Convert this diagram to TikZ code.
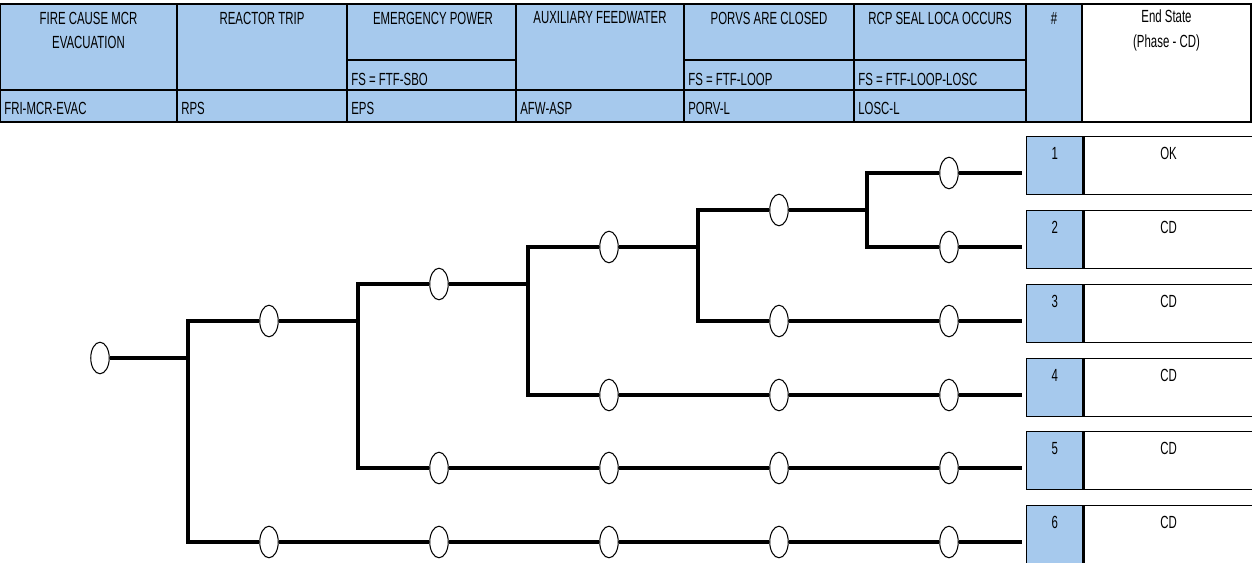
\documentclass[tikz,border=0pt]{standalone}
\usepackage{fontspec}
\setmainfont{Liberation Sans}[FakeStretch=0.65]
\usepackage{tikz}
\usetikzlibrary{positioning,shapes.geometric,calc}
\definecolor{hdrblue}{RGB}{166,201,237}

\begin{document}
\begin{tikzpicture}[
  x=0.02cm, y=-0.02cm,
  font=\fontsize{10}{14}\selectfont,
  cell/.style={draw=black,line width=0.8pt,fill=hdrblue},
  ttl/.style={align=center,inner sep=0pt},
  tag/.style={anchor=west,inner sep=0pt},
  ev/.style={draw,ellipse,fill=white,line width=0.6pt,minimum width=0.37cm,
    minimum height=0.63cm,inner sep=0pt},
  br/.style={line width=2.3pt},
  numbox/.style={draw,line width=0.8pt,fill=hdrblue,minimum width=1.12cm,inner sep=0pt,
    text height=0.46cm,text depth=0.70cm,anchor=north west},
  endbox/.style={draw,line width=0.8pt,fill=white,minimum width=3.38cm,inner sep=0pt,
    text height=0.46cm,text depth=0.70cm}
]
\useasboundingbox (0,0) rectangle (1252,563);
% Header: event columns
\draw[cell] (0,4) rectangle (177,90);
\draw[cell] (0,90) rectangle (177,122);
\draw[cell] (177,4) rectangle (347,90);
\draw[cell] (177,90) rectangle (347,122);
\draw[cell] (347,4) rectangle (516,60);
\draw[cell] (347,60) rectangle (516,90);
\draw[cell] (347,90) rectangle (516,122);
\draw[cell] (516,4) rectangle (684,90);
\draw[cell] (516,90) rectangle (684,122);
\draw[cell] (684,4) rectangle (854,60);
\draw[cell] (684,60) rectangle (854,90);
\draw[cell] (684,90) rectangle (854,122);
\draw[cell] (854,4) rectangle (1026,60);
\draw[cell] (854,60) rectangle (1026,90);
\draw[cell] (854,90) rectangle (1026,122);
\draw[cell] (1026,4) rectangle (1082,122);
\draw[cell,fill=white] (1082,4) rectangle (1251,122);
\node[ttl] (t1) at (88.5,30.5) {FIRE CAUSE MCR\\EVACUATION};
\node[ttl] (t2) at (262,18) {REACTOR TRIP};
\node[ttl] (t3) at (433,18) {EMERGENCY POWER};
\node[ttl] (t4) at (600,18) {AUXILIARY FEEDWATER};
\node[ttl] (t5) at (769,18) {PORVS ARE CLOSED};
\node[ttl] (t6) at (940,18) {RCP SEAL LOCA OCCURS};
\node[ttl] (t7) at (1054,18) {\#};
\node[ttl] (t8) at (1166.5,30.5) {End State\\(Phase - CD)};
\node[tag] (fs3) at (351,79) {FS = FTF-SBO};
\node[tag] (fs5) at (688,79) {FS = FTF-LOOP};
\node[tag] (fs6) at (858,79) {FS = FTF-LOOP-LOSC};
\node[tag] (id1) at (4,108) {FRI-MCR-EVAC};
\node[tag] (id2) at (181,108) {RPS};
\node[tag] (id3) at (351,108) {EPS};
\node[tag] (id4) at (520,108) {AFW-ASP};
\node[tag] (id5) at (688,108) {PORV-L};
\node[tag] (id6) at (858,108) {LOSC-L};
% End states
\node[numbox] (n1) at (1026,136) {1};
\node[endbox,right=0pt of n1] (s1) {OK};
\node[numbox] (n2) at (1026,210) {2};
\node[endbox,right=0pt of n2] (s2) {CD};
\node[numbox] (n3) at (1026,284) {3};
\node[endbox,right=0pt of n3] (s3) {CD};
\node[numbox] (n4) at (1026,358) {4};
\node[endbox,right=0pt of n4] (s4) {CD};
\node[numbox] (n5) at (1026,431) {5};
\node[endbox,right=0pt of n5] (s5) {CD};
\node[numbox] (n6) at (1026,505) {6};
\node[endbox,right=0pt of n6] (s6) {CD};
% Branch points
\node[ev] (ie) at (100,358) {};
\node[ev] (rt1) at (269,321) {};
\node[ev] (rt6) at (269,542) {};
\node[ev] (ep1) at (439,284) {};
\node[ev] (ep5) at (439,468) {};
\node[ev] (ep6) at (439,542) {};
\node[ev] (af1) at (609,247) {};
\node[ev] (af4) at (609,395) {};
\node[ev] (af5) at (609,468) {};
\node[ev] (af6) at (609,542) {};
\node[ev] (pv1) at (779,210) {};
\node[ev] (pv3) at (779,321) {};
\node[ev] (pv4) at (779,395) {};
\node[ev] (pv5) at (779,468) {};
\node[ev] (pv6) at (779,542) {};
\node[ev] (ls1) at (949,173) {};
\node[ev] (ls2) at (949,247) {};
\node[ev] (ls3) at (949,321) {};
\node[ev] (ls4) at (949,395) {};
\node[ev] (ls5) at (949,468) {};
\node[ev] (ls6) at (949,542) {};
\coordinate (k1) at (188,358);
\coordinate (k2) at (358,321);
\coordinate (k3) at (528,284);
\coordinate (k4) at (698,247);
\coordinate (k5) at (867,210);
% Tree
\draw[br,line width=2.8pt] (ie) -- (k1);
\draw[br] (rt1) -| (k1) |- (rt6);
\draw[br] (rt1) -- (k2);
\draw[br] (ep1) -| (k2) |- (ep5);
\draw[br] (ep1) -- (k3);
\draw[br] (af1) -| (k3) |- (af4);
\draw[br] (af1) -- (k4);
\draw[br] (pv1) -| (k4) |- (pv3);
\draw[br] (pv1) -- (k5);
\draw[br] (ls1) -| (k5) |- (ls2);
\draw[br] (pv3) -- (ls3);
\draw[br] (af4) -- (pv4) -- (ls4);
\draw[br] (ep5) -- (af5) -- (pv5) -- (ls5);
\draw[br] (rt6) -- (ep6) -- (af6) -- (pv6) -- (ls6);
\draw[br,shorten >=0.08cm] (ls1) -- (ls1 -| n1.west);
\draw[br,shorten >=0.08cm] (ls2) -- (ls2 -| n2.west);
\draw[br,shorten >=0.08cm] (ls3) -- (ls3 -| n3.west);
\draw[br,shorten >=0.08cm] (ls4) -- (ls4 -| n4.west);
\draw[br,shorten >=0.08cm] (ls5) -- (ls5 -| n5.west);
\draw[br,shorten >=0.08cm] (ls6) -- (ls6 -| n6.west);
\end{tikzpicture}
\end{document}
